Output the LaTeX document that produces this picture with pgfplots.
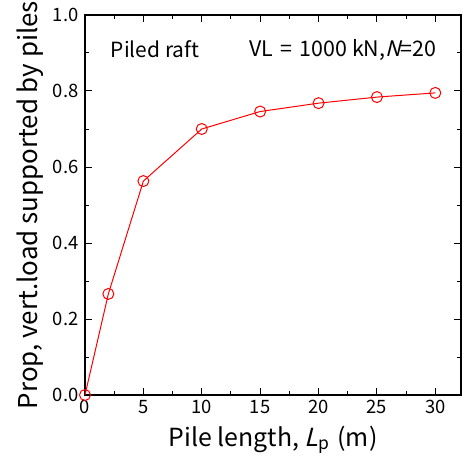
\documentclass[border=0pt]{standalone}
\usepackage{fontspec}
\setmainfont{Noto Sans CJK JP}[AutoFakeSlant=0.25]
\usepackage{pgfplots}
\pgfplotsset{compat=1.18}

\begin{document}
\begin{tikzpicture}
\begin{axis}[
    scale only axis,
    width=376bp, height=380bp,
    xmin=0, xmax=32.2,
    ymin=0, ymax=1,
    xtick={0,5,...,30},
    ytick={0,0.2,...,1.0},
    minor x tick num=1,
    minor y tick num=1,
    tick align=inside,
    tick pos=both,
    xticklabel pos=lower,
    yticklabel pos=left,
    major tick length=7bp,
    minor tick length=4bp,
    every tick/.style={black, line width=1pt},
    axis line style={line width=1.5pt},
    clip=false,
    /pgf/number format/assume math mode=true,
    yticklabel style={xshift=-3bp, /pgf/number format/fixed, /pgf/number format/fixed zerofill, /pgf/number format/precision=1},
    xticklabel style={yshift=-2bp},
    ticklabel style={font=\fontsize{18.5}{22}\selectfont},
    xlabel={Pile length, \textit{L}\textsubscript{p}\hspace{8bp}(m)},
    ylabel={Prop, vert.load supported by piles},
    every axis x label/.style={at={(axis description cs:0.5,-0.118)}, anchor=center, font=\fontsize{25}{28}\selectfont},
    every axis y label/.style={at={(axis description cs:-0.145,0.5)}, rotate=90, anchor=center, font=\fontsize{26}{29}\selectfont},
]
\addplot[red, line width=1pt, mark=o, mark size=5.5bp, mark options={fill=white, line width=1pt}]
table{%
x  y
0  0.000
2  0.266
5  0.563
10 0.700
15 0.746
20 0.768
25 0.784
30 0.795
};
\node[anchor=center, font=\fontsize{21}{24}\selectfont] at (axis cs:6.0,0.909) {Piled raft};
\node[anchor=east, font=\fontsize{21.5}{24}\selectfont] at (axis cs:30.4,0.909) {VL\,\,=\,\,1000 kN,\textit{N}=20};
\coordinate (bl) at (rel axis cs:0,0);
\coordinate (tr) at (rel axis cs:1,1);
\end{axis}
\pgfresetboundingbox
\useasboundingbox ([shift={(-85bp,-68bp)}]bl) rectangle ([shift={(4bp,15bp)}]tr);
\end{tikzpicture}
\end{document}
